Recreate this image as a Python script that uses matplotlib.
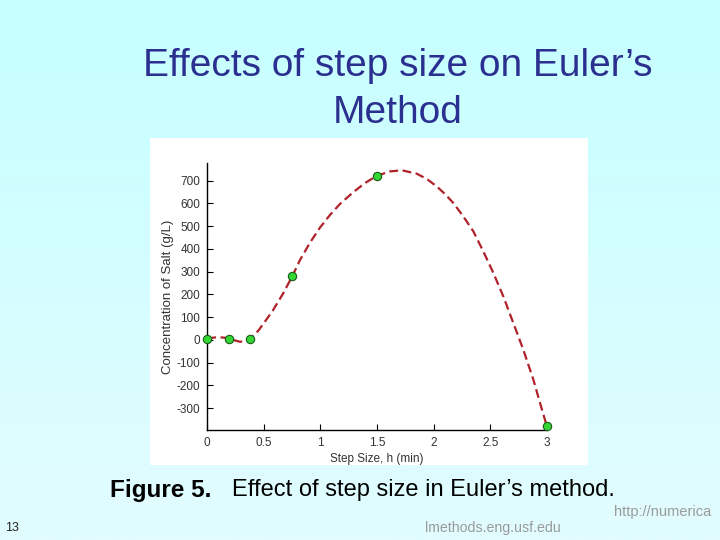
import numpy as np
import matplotlib
matplotlib.use("Agg")
import matplotlib.pyplot as plt
from matplotlib import patches

plt.rcParams['axes.unicode_minus'] = False

# Euler's method results for different step sizes
step_sizes = [0.0, 0.1875, 0.375, 0.75, 1.5, 3.0]
concentration = [5, 5, 3, 279, 722, -377]

# smooth curve drawn through the points
curve_x = [0.0, 0.05, 0.1, 0.15, 0.2, 0.25, 0.29, 0.33, 0.375, 0.45, 0.52, 0.58,
           0.672, 0.75, 0.82, 0.908, 0.996, 1.085, 1.173, 1.291, 1.394, 1.5,
           1.615, 1.719, 1.851, 1.94, 2.028, 2.1, 2.175, 2.263, 2.352, 2.44,
           2.529, 2.617, 2.706, 2.794, 2.883, 2.942, 3.0]
curve_y = [5, 10, 12, 10, 5, -3, -8, -6, 3, 40, 88, 130,
           206, 279, 352, 428, 494, 550, 598, 650, 690, 722,
           741, 746, 731, 708, 675, 642, 602, 543, 477, 389,
           294, 191, 73, -44, -176, -279, -377]

x_ticks = [0, 0.5, 1, 1.5, 2, 2.5, 3]
x_ticklabels = ['0', '0.5', '1', '1.5', '2', '2.5', '3']
y_ticks = [-300, -200, -100, 0, 100, 200, 300, 400, 500, 600, 700]

W, H = 720, 540
fig = plt.figure(figsize=(W / 100, H / 100), dpi=100)

# slide background: light cyan gradient
bg = fig.add_axes([0, 0, 1, 1])
grad = np.linspace(0, 1, 256).reshape(-1, 1)
top = np.array([198, 255, 255]) / 255
bot = np.array([226, 252, 255]) / 255
img = top + (bot - top) * grad[:, :, None]
bg.imshow(img, aspect='auto', extent=[0, 1, 0, 1])
bg.set_xlim(0, 1)
bg.set_ylim(0, 1)
bg.axis('off')

# white picture frame
bg.add_patch(patches.Rectangle((150 / W, 1 - 465 / H), 438 / W, 327 / H,
                               facecolor='white', edgecolor='none'))

def fy(py):
    return 1 - py / H

title_col = '#2b2f8f'
fig.text(398 / W, fy(66), "Effects of step size on Euler\u2019s", ha='center', va='center',
         fontsize=28, color=title_col, family='Liberation Sans')
fig.text(398 / W, fy(113), "Method", ha='center', va='center',
         fontsize=28, color=title_col, family='Liberation Sans')

ax = fig.add_axes([207.3 / W, 1 - 430 / H, 339.4 / W, 267 / H])
ax.plot(curve_x, curve_y, linestyle=(0, (4, 2)), color='#b0222a', lw=1.6, zorder=2)
ax.plot(step_sizes, concentration, 'o', color='#33d633', markeredgecolor='#1a5a1a',
        markersize=6, markeredgewidth=0.8, zorder=3, clip_on=False)
ax.set_xlim(0, 3)
ax.set_ylim(-396, 778)
ax.set_xticks(x_ticks)
ax.set_xticklabels(x_ticklabels)
ax.set_yticks(y_ticks)
for s in ['top', 'right']:
    ax.spines[s].set_visible(False)
for s in ['left', 'bottom']:
    ax.spines[s].set_linewidth(1.0)
ax.tick_params(axis='both', direction='in', length=4, labelsize=8.5, labelcolor='#333333', pad=5)
for lab in ax.get_xticklabels() + ax.get_yticklabels():
    lab.set_family('Liberation Sans')
ax.set_xlabel('Step Size, h (min)', fontsize=8.5, color='#333333', family='Liberation Sans', labelpad=3)
ax.set_ylabel('Concentration of Salt (g/L)', fontsize=9.5, color='#333333', family='Liberation Sans', labelpad=2)
ax.patch.set_alpha(0)

# caption and footer
fig.text(110 / W, fy(490), "Figure 5.", ha='left', va='center', fontsize=17.5,
         fontweight='bold', family='Liberation Sans', color='black')
fig.text(232 / W, fy(490), "Effect of step size in Euler\u2019s method.", ha='left', va='center',
         fontsize=17, family='Liberation Sans', color='black')
fig.text(5 / W, fy(528), "13", ha='left', va='center', fontsize=9, color='#222222', family='Liberation Sans')
fig.text(614 / W, fy(512), "http://numerica", ha='left', va='center', fontsize=10.5,
         color='#9a9a9a', family='Liberation Sans')
fig.text(425 / W, fy(528), "lmethods.eng.usf.edu", ha='left', va='center', fontsize=10.2,
         color='#9a9a9a', family='Liberation Sans')

fig.savefig('out.png', dpi=100)
